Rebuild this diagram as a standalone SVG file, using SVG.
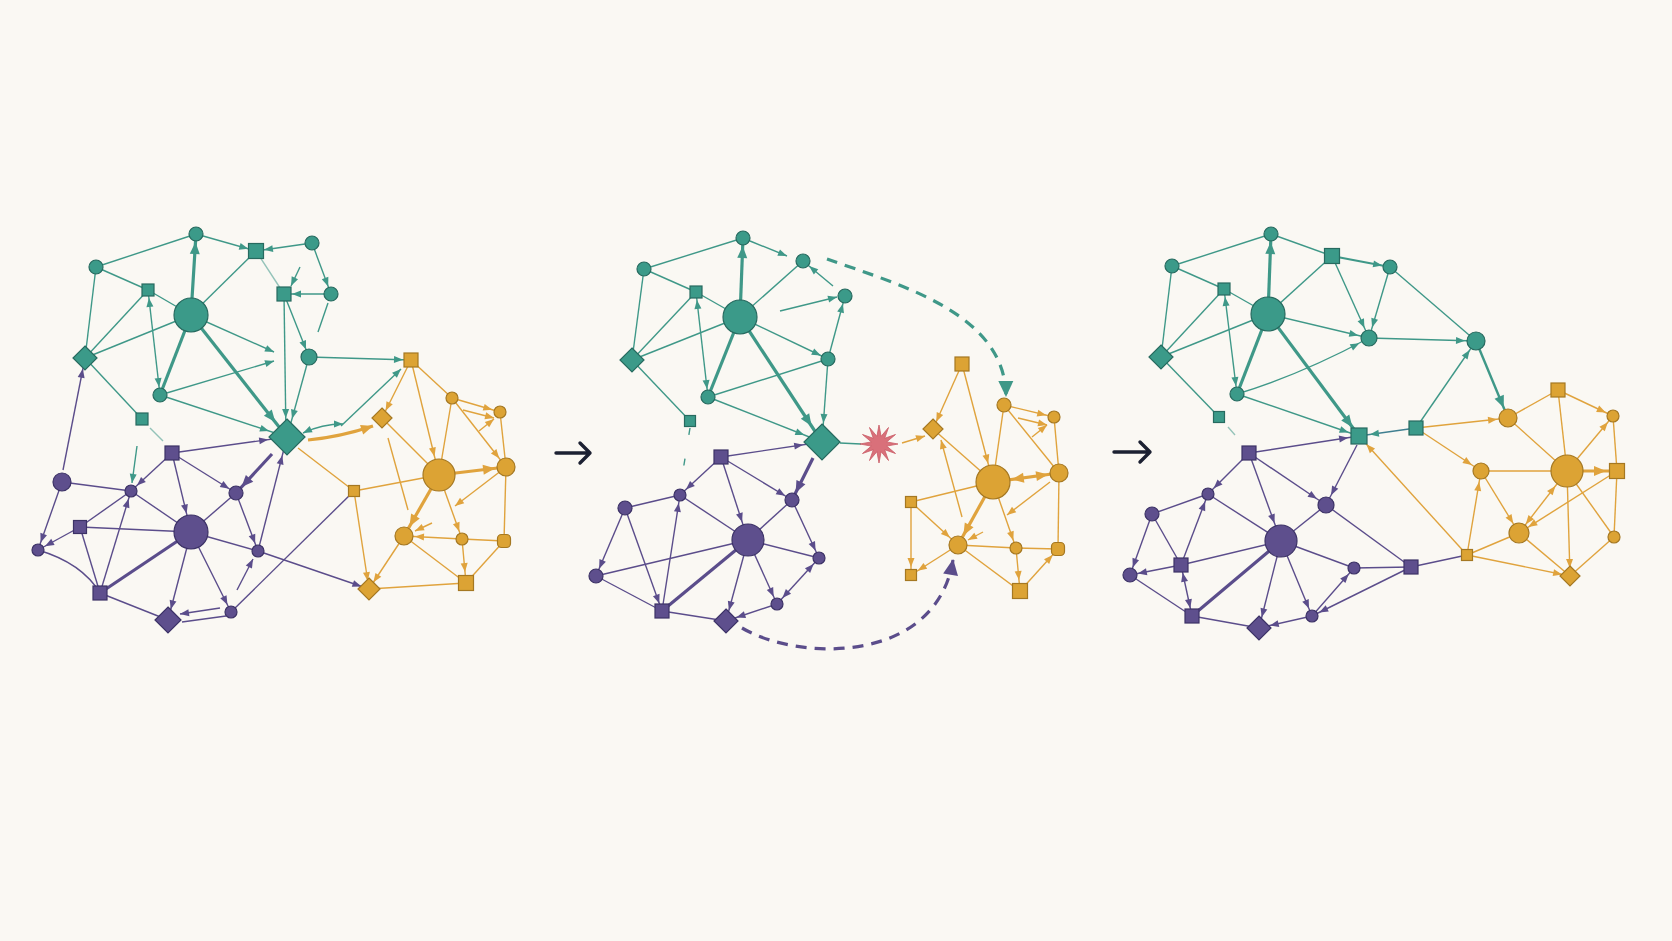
<svg xmlns="http://www.w3.org/2000/svg" width="1672" height="941" viewBox="0 0 1672 941">
<style>
.et{stroke:#3f9888;stroke-width:1.4;fill:none}
.ep{stroke:#5b4d8b;stroke-width:1.4;fill:none}
.eo{stroke:#e0a33d;stroke-width:1.4;fill:none}
.k{stroke-width:3.2}
.fa{opacity:.55}
.dash{stroke-width:3.2;stroke-dasharray:11 8}
.nt{fill:#3b9a89;stroke:#276a5f;stroke-width:1.2}
.np{fill:#5e4f8d;stroke:#3c3266;stroke-width:1.2}
.no{fill:#dca334;stroke:#a57822;stroke-width:1.2}
.pa{stroke:#1c2132;stroke-width:3.4;fill:none;stroke-linecap:round;stroke-linejoin:round}
</style>
<defs>
<marker id="t-s" markerUnits="userSpaceOnUse" orient="auto-start-reverse" refX="17" refY="0" markerWidth="10" markerHeight="10" overflow="visible"><path d="M0,-3.5L9,0L0,3.5z" fill="#3f9888"/></marker>
<marker id="t-m" markerUnits="userSpaceOnUse" orient="auto-start-reverse" refX="20" refY="0" markerWidth="10" markerHeight="10" overflow="visible"><path d="M0,-3.5L9,0L0,3.5z" fill="#3f9888"/></marker>
<marker id="t-l" markerUnits="userSpaceOnUse" orient="auto-start-reverse" refX="28" refY="0" markerWidth="10" markerHeight="10" overflow="visible"><path d="M0,-3.5L9,0L0,3.5z" fill="#3f9888"/></marker>
<marker id="t-0" markerUnits="userSpaceOnUse" orient="auto-start-reverse" refX="9" refY="0" markerWidth="10" markerHeight="10" overflow="visible"><path d="M0,-3.5L9,0L0,3.5z" fill="#3f9888"/></marker>
<marker id="p-s" markerUnits="userSpaceOnUse" orient="auto-start-reverse" refX="17" refY="0" markerWidth="10" markerHeight="10" overflow="visible"><path d="M0,-3.5L9,0L0,3.5z" fill="#5b4d8b"/></marker>
<marker id="p-m" markerUnits="userSpaceOnUse" orient="auto-start-reverse" refX="20" refY="0" markerWidth="10" markerHeight="10" overflow="visible"><path d="M0,-3.5L9,0L0,3.5z" fill="#5b4d8b"/></marker>
<marker id="p-l" markerUnits="userSpaceOnUse" orient="auto-start-reverse" refX="28" refY="0" markerWidth="10" markerHeight="10" overflow="visible"><path d="M0,-3.5L9,0L0,3.5z" fill="#5b4d8b"/></marker>
<marker id="p-0" markerUnits="userSpaceOnUse" orient="auto-start-reverse" refX="9" refY="0" markerWidth="10" markerHeight="10" overflow="visible"><path d="M0,-3.5L9,0L0,3.5z" fill="#5b4d8b"/></marker>
<marker id="o-s" markerUnits="userSpaceOnUse" orient="auto-start-reverse" refX="17" refY="0" markerWidth="10" markerHeight="10" overflow="visible"><path d="M0,-3.5L9,0L0,3.5z" fill="#e0a33d"/></marker>
<marker id="o-m" markerUnits="userSpaceOnUse" orient="auto-start-reverse" refX="20" refY="0" markerWidth="10" markerHeight="10" overflow="visible"><path d="M0,-3.5L9,0L0,3.5z" fill="#e0a33d"/></marker>
<marker id="o-l" markerUnits="userSpaceOnUse" orient="auto-start-reverse" refX="28" refY="0" markerWidth="10" markerHeight="10" overflow="visible"><path d="M0,-3.5L9,0L0,3.5z" fill="#e0a33d"/></marker>
<marker id="o-0" markerUnits="userSpaceOnUse" orient="auto-start-reverse" refX="9" refY="0" markerWidth="10" markerHeight="10" overflow="visible"><path d="M0,-3.5L9,0L0,3.5z" fill="#e0a33d"/></marker>
<marker id="tt-s" markerUnits="userSpaceOnUse" orient="auto-start-reverse" refX="20" refY="0" markerWidth="14" markerHeight="14" overflow="visible"><path d="M0,-5L12,0L0,5z" fill="#3f9888"/></marker>
<marker id="tt-m" markerUnits="userSpaceOnUse" orient="auto-start-reverse" refX="23" refY="0" markerWidth="14" markerHeight="14" overflow="visible"><path d="M0,-5L12,0L0,5z" fill="#3f9888"/></marker>
<marker id="tt-l" markerUnits="userSpaceOnUse" orient="auto-start-reverse" refX="31" refY="0" markerWidth="14" markerHeight="14" overflow="visible"><path d="M0,-5L12,0L0,5z" fill="#3f9888"/></marker>
<marker id="pt-s" markerUnits="userSpaceOnUse" orient="auto-start-reverse" refX="20" refY="0" markerWidth="14" markerHeight="14" overflow="visible"><path d="M0,-5L12,0L0,5z" fill="#5b4d8b"/></marker>
<marker id="ot-m" markerUnits="userSpaceOnUse" orient="auto-start-reverse" refX="23" refY="0" markerWidth="14" markerHeight="14" overflow="visible"><path d="M0,-5L12,0L0,5z" fill="#e0a33d"/></marker>
<marker id="ot-l" markerUnits="userSpaceOnUse" orient="auto-start-reverse" refX="31" refY="0" markerWidth="14" markerHeight="14" overflow="visible"><path d="M0,-5L12,0L0,5z" fill="#e0a33d"/></marker>
<marker id="ot-0" markerUnits="userSpaceOnUse" orient="auto-start-reverse" refX="12" refY="0" markerWidth="14" markerHeight="14" overflow="visible"><path d="M0,-5L12,0L0,5z" fill="#e0a33d"/></marker>
<marker id="td" markerUnits="userSpaceOnUse" orient="auto" refX="15" refY="0" markerWidth="16" markerHeight="16" overflow="visible"><path d="M0,-7.5L16,0L0,7.5z" fill="#3f9888"/></marker>
<marker id="pd" markerUnits="userSpaceOnUse" orient="auto" refX="15" refY="0" markerWidth="16" markerHeight="16" overflow="visible"><path d="M0,-7.5L16,0L0,7.5z" fill="#5b4d8b"/></marker>
</defs>
<rect width="1672" height="941" fill="#faf8f3"/>

<g id="connectors">
<!-- Panel 1 teal -->
<line class="et" x1="96" y1="267" x2="196" y2="234"/>
<line class="et" x1="196" y1="234" x2="256" y2="251" marker-end="url(#t-s)"/>
<line class="et" x1="96" y1="267" x2="148" y2="290"/>
<line class="et" x1="96" y1="267" x2="85" y2="358"/>
<line class="et" x1="148" y1="290" x2="191" y2="315"/>
<line class="et" x1="148" y1="290" x2="85" y2="358"/>
<line class="et k" x1="191" y1="315" x2="196" y2="234" marker-end="url(#tt-s)"/>
<line class="et" x1="191" y1="315" x2="256" y2="251"/>
<line class="et" x1="191" y1="315" x2="85" y2="358"/>
<line class="et" x1="148" y1="290" x2="160" y2="395" marker-start="url(#t-s)" marker-end="url(#t-s)"/>
<line class="et k" x1="191" y1="315" x2="160" y2="395"/>
<line class="et k" x1="191" y1="315" x2="287" y2="437" marker-end="url(#tt-l)"/>
<line class="et" x1="191" y1="315" x2="274" y2="352" marker-end="url(#t-0)"/>
<line class="et" x1="160" y1="395" x2="274" y2="361" marker-end="url(#t-0)"/>
<line class="et" x1="160" y1="395" x2="287" y2="437" marker-end="url(#t-l)"/>
<line class="et" x1="85" y1="358" x2="142" y2="419"/>
<line class="et" x1="284" y1="294" x2="286" y2="437" marker-end="url(#t-l)"/>
<line class="et fa" x1="256" y1="251" x2="284" y2="294"/>
<line class="et" x1="305" y1="244" x2="256" y2="251" marker-end="url(#t-s)"/>
<line class="et" x1="312" y1="243" x2="331" y2="294" marker-end="url(#t-s)"/>
<line class="et" x1="331" y1="294" x2="284" y2="294" marker-end="url(#t-s)"/>
<line class="et" x1="300" y1="267" x2="291" y2="286" marker-end="url(#t-0)"/>
<line class="et" x1="284" y1="294" x2="309" y2="357" marker-end="url(#t-s)"/>
<line class="et" x1="328" y1="303" x2="318" y2="332"/>
<line class="et" x1="309" y1="357" x2="411" y2="360" marker-end="url(#t-s)"/>
<line class="et" x1="309" y1="357" x2="287" y2="437" marker-end="url(#t-l)"/>
<path class="et" d="M303,433 Q322,424 343,424" marker-start="url(#t-0)" marker-end="url(#t-0)"/>
<line class="et" x1="341" y1="426" x2="401" y2="369" marker-end="url(#t-0)"/>
<line class="et fa" x1="150" y1="428" x2="163" y2="441"/>
<line class="et" x1="137" y1="446" x2="132" y2="483" marker-end="url(#t-0)"/>
<!-- Panel 1 orange -->
<path class="eo k" d="M308,440 Q340,437 373,426" marker-end="url(#ot-0)"/>
<line class="eo" x1="411" y1="360" x2="382" y2="418" marker-end="url(#o-s)"/>
<line class="eo" x1="411" y1="360" x2="439" y2="475" marker-end="url(#o-l)"/>
<line class="eo" x1="411" y1="360" x2="452" y2="398"/>
<line class="eo" x1="452" y1="398" x2="500" y2="412" marker-end="url(#o-s)"/>
<line class="eo" x1="463" y1="410" x2="494" y2="418" marker-end="url(#o-0)"/>
<line class="eo" x1="479" y1="431" x2="494" y2="419" marker-end="url(#o-0)"/>
<line class="eo" x1="452" y1="398" x2="439" y2="475"/>
<line class="eo" x1="452" y1="398" x2="506" y2="467" marker-end="url(#o-m)"/>
<line class="eo" x1="500" y1="412" x2="506" y2="467"/>
<line class="eo k" x1="439" y1="475" x2="506" y2="467" marker-end="url(#ot-m)"/>
<line class="eo" x1="506" y1="467" x2="455" y2="506" marker-end="url(#o-0)"/>
<line class="eo" x1="388" y1="438" x2="408" y2="510"/>
<line class="eo" x1="382" y1="418" x2="439" y2="475"/>
<line class="eo k" x1="439" y1="475" x2="404" y2="536" marker-end="url(#ot-m)"/>
<line class="eo" x1="432" y1="523" x2="415" y2="531" marker-end="url(#o-0)"/>
<line class="eo" x1="439" y1="475" x2="462" y2="539" marker-end="url(#o-s)"/>
<line class="eo" x1="439" y1="475" x2="354" y2="491"/>
<line class="eo" x1="354" y1="491" x2="369" y2="589" marker-end="url(#o-s)"/>
<line class="eo" x1="298" y1="448" x2="354" y2="491"/>
<line class="eo" x1="462" y1="539" x2="404" y2="536" marker-end="url(#o-m)"/>
<line class="eo" x1="462" y1="539" x2="504" y2="541"/>
<line class="eo" x1="462" y1="539" x2="466" y2="583" marker-end="url(#o-m)"/>
<line class="eo" x1="506" y1="467" x2="504" y2="541"/>
<line class="eo" x1="504" y1="541" x2="466" y2="583"/>
<line class="eo" x1="404" y1="536" x2="369" y2="589" marker-end="url(#o-s)"/>
<line class="eo" x1="404" y1="536" x2="466" y2="583"/>
<line class="eo" x1="369" y1="589" x2="466" y2="583"/>
<!-- Panel 1 purple -->
<line class="ep" x1="231" y1="612" x2="354" y2="491"/>
<line class="ep" x1="258" y1="551" x2="369" y2="589" marker-end="url(#p-s)"/>
<line class="ep" x1="172" y1="453" x2="287" y2="437" marker-end="url(#p-l)"/>
<line class="ep" x1="172" y1="453" x2="131" y2="491" marker-end="url(#p-s)"/>
<line class="ep" x1="172" y1="453" x2="191" y2="532" marker-end="url(#p-l)"/>
<line class="ep" x1="172" y1="453" x2="236" y2="493" marker-end="url(#p-s)"/>
<line class="ep k" x1="272" y1="454" x2="236" y2="493" marker-end="url(#pt-s)"/>
<line class="ep" x1="62" y1="482" x2="131" y2="491"/>
<line class="ep" x1="62" y1="482" x2="38" y2="550" marker-end="url(#p-s)"/>
<line class="ep" x1="63" y1="470" x2="85" y2="358" marker-end="url(#p-m)"/>
<line class="ep" x1="80" y1="527" x2="131" y2="491"/>
<line class="ep" x1="80" y1="527" x2="38" y2="550" marker-end="url(#p-s)"/>
<line class="ep" x1="80" y1="527" x2="191" y2="532"/>
<line class="ep" x1="80" y1="527" x2="100" y2="593"/>
<line class="ep" x1="131" y1="491" x2="191" y2="532"/>
<line class="ep" x1="100" y1="593" x2="131" y2="491" marker-end="url(#p-s)"/>
<path class="ep" d="M38,550 Q82,563 100,593"/>
<line class="ep k" x1="100" y1="593" x2="191" y2="532"/>
<line class="ep" x1="100" y1="593" x2="168" y2="620"/>
<line class="ep" x1="191" y1="532" x2="168" y2="620" marker-end="url(#p-m)"/>
<line class="ep" x1="191" y1="532" x2="231" y2="612" marker-end="url(#p-s)"/>
<line class="ep" x1="191" y1="532" x2="258" y2="551"/>
<line class="ep" x1="191" y1="532" x2="236" y2="493"/>
<line class="ep" x1="236" y1="493" x2="258" y2="551" marker-end="url(#p-s)"/>
<line class="ep" x1="258" y1="551" x2="287" y2="437" marker-end="url(#p-l)"/>
<line class="ep" x1="237" y1="590" x2="253" y2="559" marker-end="url(#p-0)"/>
<line class="ep" x1="220" y1="608" x2="180" y2="614" marker-end="url(#p-0)"/>
<line class="ep" x1="182" y1="622" x2="226" y2="616"/>

<!-- Panel 2 teal -->
<line class="et" x1="644" y1="269" x2="743" y2="238"/>
<line class="et" x1="750" y1="241" x2="787" y2="256" marker-end="url(#t-0)"/>
<line class="et" x1="644" y1="269" x2="696" y2="292"/>
<line class="et" x1="644" y1="269" x2="632" y2="360"/>
<line class="et" x1="696" y1="292" x2="740" y2="317"/>
<line class="et" x1="696" y1="292" x2="632" y2="360"/>
<line class="et" x1="696" y1="292" x2="708" y2="397" marker-start="url(#t-s)" marker-end="url(#t-s)"/>
<line class="et k" x1="740" y1="317" x2="743" y2="238" marker-end="url(#tt-s)"/>
<line class="et" x1="740" y1="317" x2="803" y2="261"/>
<line class="et" x1="740" y1="317" x2="632" y2="360"/>
<line class="et" x1="740" y1="317" x2="828" y2="359" marker-end="url(#t-s)"/>
<line class="et k" x1="740" y1="317" x2="708" y2="397"/>
<line class="et k" x1="740" y1="317" x2="822" y2="442" marker-end="url(#tt-l)"/>
<line class="et" x1="833" y1="286" x2="803" y2="261" marker-end="url(#t-s)"/>
<line class="et" x1="780" y1="311" x2="837" y2="297" marker-end="url(#t-0)"/>
<line class="et" x1="828" y1="359" x2="845" y2="296" marker-end="url(#t-s)"/>
<line class="et" x1="828" y1="359" x2="822" y2="442" marker-end="url(#t-l)"/>
<line class="et" x1="708" y1="397" x2="828" y2="359"/>
<line class="et" x1="708" y1="397" x2="822" y2="442" marker-end="url(#t-l)"/>
<line class="et" x1="632" y1="360" x2="690" y2="421"/>
<line class="et" x1="840" y1="443" x2="861" y2="444"/>
<line class="et" x1="690" y1="428" x2="680" y2="489" style="stroke-dasharray:7 24"/>
<path class="et dash" d="M827,259 C900,285 1005,313 1006,396" marker-end="url(#td)"/>
<!-- Panel 2 orange -->
<line class="eo" x1="902" y1="443" x2="925" y2="436" marker-end="url(#o-0)"/>
<line class="eo" x1="962" y1="364" x2="933" y2="429" marker-end="url(#o-s)"/>
<line class="eo" x1="962" y1="364" x2="993" y2="482" marker-end="url(#o-l)"/>
<line class="eo" x1="1004" y1="405" x2="993" y2="482"/>
<line class="eo" x1="1004" y1="405" x2="1054" y2="417" marker-end="url(#o-s)"/>
<line class="eo" x1="1018" y1="418" x2="1047" y2="425" marker-end="url(#o-0)"/>
<line class="eo" x1="1004" y1="405" x2="1059" y2="473"/>
<line class="eo" x1="1032" y1="437" x2="1047" y2="425" marker-end="url(#o-0)"/>
<line class="eo" x1="1054" y1="417" x2="1059" y2="473"/>
<line class="eo k" x1="993" y1="482" x2="1059" y2="473" marker-start="url(#ot-l)" marker-end="url(#ot-m)"/>
<line class="eo" x1="1050" y1="482" x2="1007" y2="515" marker-end="url(#o-0)"/>
<line class="eo" x1="962" y1="517" x2="941" y2="440" marker-end="url(#o-0)"/>
<line class="eo" x1="933" y1="429" x2="993" y2="482"/>
<line class="eo k" x1="993" y1="482" x2="958" y2="545" marker-end="url(#ot-m)"/>
<line class="eo" x1="983" y1="532" x2="968" y2="540" marker-end="url(#o-0)"/>
<line class="eo" x1="993" y1="482" x2="1016" y2="548" marker-end="url(#o-s)"/>
<line class="eo" x1="993" y1="482" x2="911" y2="502"/>
<line class="eo" x1="911" y1="502" x2="958" y2="545" marker-end="url(#o-m)"/>
<line class="eo" x1="911" y1="502" x2="911" y2="575" marker-end="url(#o-s)"/>
<line class="eo" x1="958" y1="545" x2="911" y2="575" marker-end="url(#o-s)"/>
<line class="eo" x1="958" y1="545" x2="1016" y2="548"/>
<line class="eo" x1="1016" y1="548" x2="1058" y2="549"/>
<line class="eo" x1="1016" y1="548" x2="1020" y2="591" marker-end="url(#o-m)"/>
<line class="eo" x1="1020" y1="591" x2="1058" y2="549" marker-end="url(#o-s)"/>
<line class="eo" x1="1059" y1="473" x2="1058" y2="549"/>
<line class="eo" x1="958" y1="545" x2="1020" y2="591"/>
<!-- Panel 2 purple -->
<path class="ep dash" d="M742,628 C800,662 936,664 953,560" marker-end="url(#pd)"/>
<line class="ep" x1="721" y1="457" x2="822" y2="442" marker-end="url(#p-l)"/>
<line class="ep" x1="721" y1="457" x2="680" y2="495" marker-end="url(#p-s)"/>
<line class="ep" x1="721" y1="457" x2="748" y2="540" marker-end="url(#p-l)"/>
<line class="ep" x1="721" y1="457" x2="792" y2="500" marker-end="url(#p-s)"/>
<line class="ep k" x1="813" y1="458" x2="792" y2="500" marker-end="url(#pt-s)"/>
<line class="ep" x1="625" y1="508" x2="680" y2="495"/>
<line class="ep" x1="625" y1="508" x2="596" y2="576" marker-end="url(#p-s)"/>
<line class="ep" x1="625" y1="508" x2="662" y2="611" marker-end="url(#p-s)"/>
<line class="ep" x1="680" y1="495" x2="748" y2="540"/>
<line class="ep" x1="662" y1="611" x2="680" y2="495" marker-end="url(#p-s)"/>
<line class="ep" x1="596" y1="576" x2="748" y2="540"/>
<line class="ep" x1="596" y1="576" x2="662" y2="611"/>
<line class="ep k" x1="662" y1="611" x2="748" y2="540"/>
<line class="ep" x1="662" y1="611" x2="726" y2="621"/>
<line class="ep" x1="748" y1="540" x2="726" y2="621" marker-end="url(#p-m)"/>
<line class="ep" x1="748" y1="540" x2="777" y2="604" marker-end="url(#p-s)"/>
<line class="ep" x1="748" y1="540" x2="819" y2="558"/>
<line class="ep" x1="792" y1="500" x2="748" y2="540"/>
<line class="ep" x1="792" y1="500" x2="819" y2="558" marker-end="url(#p-s)"/>
<line class="ep" x1="777" y1="604" x2="819" y2="558" marker-start="url(#p-s)" marker-end="url(#p-s)"/>
<line class="ep" x1="777" y1="604" x2="726" y2="621" marker-end="url(#p-m)"/>

<!-- Panel 3 teal -->
<line class="et" x1="1172" y1="266" x2="1271" y2="234"/>
<line class="et" x1="1271" y1="234" x2="1332" y2="256"/>
<line class="et" x1="1172" y1="266" x2="1224" y2="289"/>
<line class="et" x1="1172" y1="266" x2="1161" y2="357"/>
<line class="et" x1="1224" y1="289" x2="1268" y2="314"/>
<line class="et" x1="1224" y1="289" x2="1161" y2="357"/>
<line class="et" x1="1224" y1="289" x2="1237" y2="394" marker-start="url(#t-s)" marker-end="url(#t-s)"/>
<line class="et k" x1="1268" y1="314" x2="1271" y2="234" marker-end="url(#tt-s)"/>
<line class="et" x1="1268" y1="314" x2="1332" y2="256"/>
<line class="et" x1="1268" y1="314" x2="1161" y2="357"/>
<line class="et" x1="1268" y1="314" x2="1369" y2="338" marker-end="url(#t-m)"/>
<line class="et k" x1="1268" y1="314" x2="1237" y2="394"/>
<line class="et k" x1="1268" y1="314" x2="1359" y2="436" marker-end="url(#tt-m)"/>
<line class="et" x1="1332" y1="256" x2="1369" y2="338" marker-end="url(#t-m)"/>
<line class="et" x1="1332" y1="256" x2="1390" y2="267" style="stroke-width:2.2" marker-end="url(#t-s)"/>
<path class="et" d="M1237,394 Q1300,375 1369,338" marker-end="url(#t-m)"/>
<line class="et" x1="1237" y1="394" x2="1359" y2="436" marker-end="url(#t-m)"/>
<line class="et" x1="1161" y1="357" x2="1219" y2="417"/>
<line class="et fa" x1="1228" y1="427" x2="1235" y2="435"/>
<line class="et" x1="1390" y1="267" x2="1369" y2="338" marker-end="url(#t-m)"/>
<line class="et" x1="1390" y1="267" x2="1476" y2="341"/>
<line class="et" x1="1369" y1="338" x2="1476" y2="341" marker-end="url(#t-m)"/>
<line class="et" x1="1416" y1="428" x2="1476" y2="341" marker-end="url(#t-m)"/>
<line class="et" x1="1476" y1="341" x2="1508" y2="418" style="stroke-width:2.4" marker-end="url(#tt-m)"/>
<line class="et" x1="1416" y1="428" x2="1359" y2="436" style="stroke:#3f7f90" marker-end="url(#t-m)"/>
<!-- Panel 3 orange -->
<line class="eo" x1="1416" y1="428" x2="1508" y2="418" marker-end="url(#o-m)"/>
<line class="eo" x1="1508" y1="418" x2="1558" y2="390"/>
<line class="eo" x1="1558" y1="390" x2="1613" y2="416" marker-end="url(#o-s)"/>
<line class="eo" x1="1558" y1="390" x2="1567" y2="471"/>
<line class="eo" x1="1508" y1="418" x2="1567" y2="471"/>
<line class="eo" x1="1416" y1="428" x2="1481" y2="471" marker-end="url(#o-m)"/>
<line class="eo" x1="1467" y1="555" x2="1359" y2="436" marker-end="url(#o-m)"/>
<line class="eo" x1="1467" y1="555" x2="1481" y2="471" marker-end="url(#o-m)"/>
<line class="eo" x1="1467" y1="555" x2="1519" y2="533"/>
<line class="eo" x1="1467" y1="555" x2="1570" y2="576" marker-end="url(#o-s)"/>
<line class="eo" x1="1481" y1="471" x2="1567" y2="471"/>
<line class="eo" x1="1481" y1="471" x2="1519" y2="533" marker-end="url(#o-m)"/>
<line class="eo" x1="1567" y1="471" x2="1613" y2="416" marker-end="url(#o-s)"/>
<line class="eo k" x1="1567" y1="471" x2="1617" y2="471" marker-end="url(#ot-m)"/>
<line class="eo" x1="1567" y1="471" x2="1519" y2="533" marker-start="url(#o-l)" marker-end="url(#o-m)"/>
<line class="eo" x1="1617" y1="471" x2="1519" y2="533" marker-end="url(#o-m)"/>
<line class="eo" x1="1567" y1="471" x2="1570" y2="576" marker-end="url(#o-s)"/>
<line class="eo" x1="1567" y1="471" x2="1614" y2="537"/>
<line class="eo" x1="1613" y1="416" x2="1617" y2="471"/>
<line class="eo" x1="1617" y1="471" x2="1614" y2="537"/>
<line class="eo" x1="1519" y1="533" x2="1570" y2="576"/>
<line class="eo" x1="1614" y1="537" x2="1570" y2="576"/>
<!-- Panel 3 purple -->
<line class="ep" x1="1249" y1="453" x2="1359" y2="436" marker-end="url(#p-m)"/>
<line class="ep" x1="1249" y1="453" x2="1208" y2="494" marker-end="url(#p-s)"/>
<line class="ep" x1="1249" y1="453" x2="1281" y2="541" marker-end="url(#p-l)"/>
<line class="ep" x1="1249" y1="453" x2="1326" y2="505" marker-end="url(#p-m)"/>
<line class="ep" x1="1357" y1="445" x2="1326" y2="505" marker-end="url(#p-m)"/>
<line class="ep" x1="1152" y1="514" x2="1208" y2="494"/>
<line class="ep" x1="1152" y1="514" x2="1130" y2="575" marker-end="url(#p-s)"/>
<line class="ep" x1="1152" y1="514" x2="1181" y2="565"/>
<line class="ep" x1="1208" y1="494" x2="1281" y2="541"/>
<line class="ep" x1="1181" y1="565" x2="1208" y2="494" marker-end="url(#p-s)"/>
<line class="ep" x1="1181" y1="565" x2="1130" y2="575" marker-end="url(#p-s)"/>
<line class="ep" x1="1181" y1="565" x2="1281" y2="541"/>
<line class="ep" x1="1181" y1="565" x2="1192" y2="616" marker-start="url(#p-s)" marker-end="url(#p-s)"/>
<line class="ep" x1="1130" y1="575" x2="1192" y2="616"/>
<line class="ep k" x1="1192" y1="616" x2="1281" y2="541"/>
<line class="ep" x1="1192" y1="616" x2="1259" y2="628"/>
<line class="ep" x1="1281" y1="541" x2="1259" y2="628" marker-end="url(#p-m)"/>
<line class="ep" x1="1281" y1="541" x2="1312" y2="616" marker-end="url(#p-s)"/>
<line class="ep" x1="1281" y1="541" x2="1354" y2="568"/>
<line class="ep" x1="1326" y1="505" x2="1281" y2="541"/>
<line class="ep" x1="1312" y1="616" x2="1354" y2="568" marker-end="url(#p-s)"/>
<line class="ep" x1="1312" y1="616" x2="1259" y2="628" marker-end="url(#p-m)"/>
<line class="ep" x1="1326" y1="505" x2="1411" y2="567"/>
<line class="ep" x1="1354" y1="568" x2="1411" y2="567"/>
<line class="ep" x1="1411" y1="567" x2="1312" y2="616" marker-end="url(#p-s)"/>
<line class="ep" x1="1411" y1="567" x2="1467" y2="555"/>
</g>

<g id="panel-arrows">
<path class="pa" d="M556,453H590M580,443L590,453L580,463"/>
<path class="pa" d="M1114,452H1150M1140,442L1150,452L1140,462"/>
</g>

<!-- Panel 1 nodes -->
<g id="a1"><circle class="nt" cx="196" cy="234" r="7"/></g>
<g id="a2"><rect class="nt" x="248.5" y="243.5" width="15" height="15"/></g>
<g id="a3"><circle class="nt" cx="96" cy="267" r="7"/></g>
<g id="a4"><rect class="nt" x="142" y="284" width="12" height="12"/></g>
<g id="a5"><rect class="nt" x="277" y="287" width="14" height="14"/></g>
<g id="a6"><circle class="nt" cx="312" cy="243" r="7"/></g>
<g id="a7"><circle class="nt" cx="331" cy="294" r="7"/></g>
<g id="aH"><circle class="nt" cx="191" cy="315" r="17"/></g>
<g id="a8"><polygon class="nt" points="85,346 97,358 85,370 73,358"/></g>
<g id="a9"><circle class="nt" cx="309" cy="357" r="8"/></g>
<g id="a10"><circle class="nt" cx="160" cy="395" r="7"/></g>
<g id="a11"><rect class="nt" x="136" y="413" width="12" height="12"/></g>
<g id="aD"><polygon class="nt" points="287,419 305,437 287,455 269,437"/></g>
<g id="b1"><rect class="no" x="404" y="353" width="14" height="14"/></g>
<g id="b2"><polygon class="no" points="382,408 392,418 382,428 372,418"/></g>
<g id="b3"><circle class="no" cx="452" cy="398" r="6"/></g>
<g id="b4"><circle class="no" cx="500" cy="412" r="6"/></g>
<g id="bH"><circle class="no" cx="439" cy="475" r="16"/></g>
<g id="b5"><circle class="no" cx="506" cy="467" r="9"/></g>
<g id="b6"><rect class="no" x="348.5" y="485.5" width="11" height="11"/></g>
<g id="b7"><circle class="no" cx="404" cy="536" r="9"/></g>
<g id="b8"><circle class="no" cx="462" cy="539" r="6"/></g>
<g id="b9"><rect class="no" x="497.5" y="534.5" width="13" height="13" rx="4"/></g>
<g id="b10"><polygon class="no" points="369,578 380,589 369,600 358,589"/></g>
<g id="b11"><rect class="no" x="458.5" y="575.5" width="15" height="15"/></g>
<g id="c1"><rect class="np" x="165" y="446" width="14" height="14"/></g>
<g id="c2"><circle class="np" cx="62" cy="482" r="9"/></g>
<g id="c3"><circle class="np" cx="131" cy="491" r="6"/></g>
<g id="c4"><circle class="np" cx="236" cy="493" r="7"/></g>
<g id="c5"><rect class="np" x="73.5" y="520.5" width="13" height="13"/></g>
<g id="cH"><circle class="np" cx="191" cy="532" r="17"/></g>
<g id="c6"><circle class="np" cx="38" cy="550" r="6"/></g>
<g id="c7"><circle class="np" cx="258" cy="551" r="6"/></g>
<g id="c8"><rect class="np" x="93" y="586" width="14" height="14"/></g>
<g id="c9"><polygon class="np" points="168,607 181,620 168,633 155,620"/></g>
<g id="c10"><circle class="np" cx="231" cy="612" r="6"/></g>

<!-- Panel 2 nodes -->
<g id="d1"><circle class="nt" cx="743" cy="238" r="7"/></g>
<g id="d2"><circle class="nt" cx="803" cy="261" r="7"/></g>
<g id="d3"><circle class="nt" cx="644" cy="269" r="7"/></g>
<g id="d4"><rect class="nt" x="690" y="286" width="12" height="12"/></g>
<g id="d5"><circle class="nt" cx="845" cy="296" r="7"/></g>
<g id="dH"><circle class="nt" cx="740" cy="317" r="17"/></g>
<g id="d6"><polygon class="nt" points="632,348 644,360 632,372 620,360"/></g>
<g id="d7"><circle class="nt" cx="828" cy="359" r="7"/></g>
<g id="d8"><circle class="nt" cx="708" cy="397" r="7"/></g>
<g id="d9"><rect class="nt" x="684.5" y="415.5" width="11" height="11"/></g>
<g id="dD"><polygon class="nt" points="822,424 840,442 822,460 804,442"/></g>
<g id="burst"><polygon fill="#d9707a" stroke="#c95c66" stroke-width="0.8" points="879,425 881.1,436.3 888.5,427.5 884.7,438.3 895.5,434.5 886.7,441.9 898,444 886.7,446.1 895.5,453.5 884.7,449.7 888.5,460.5 881.1,451.7 879,463 876.9,451.7 869.5,460.5 873.3,449.7 862.5,453.5 871.3,446.1 860,444 871.3,441.9 862.5,434.5 873.3,438.3 869.5,427.5 876.9,436.3"/></g>
<g id="e1"><rect class="no" x="955" y="357" width="14" height="14"/></g>
<g id="e2"><polygon class="no" points="933,419 943,429 933,439 923,429"/></g>
<g id="e3"><circle class="no" cx="1004" cy="405" r="7"/></g>
<g id="e4"><circle class="no" cx="1054" cy="417" r="6"/></g>
<g id="eH"><circle class="no" cx="993" cy="482" r="17"/></g>
<g id="e5"><circle class="no" cx="1059" cy="473" r="9"/></g>
<g id="e6"><rect class="no" x="905.5" y="496.5" width="11" height="11"/></g>
<g id="e7"><circle class="no" cx="958" cy="545" r="9"/></g>
<g id="e8"><circle class="no" cx="1016" cy="548" r="6"/></g>
<g id="e9"><rect class="no" x="1051.5" y="542.5" width="13" height="13" rx="4"/></g>
<g id="e10"><rect class="no" x="905.5" y="569.5" width="11" height="11"/></g>
<g id="e11"><rect class="no" x="1012.5" y="583.5" width="15" height="15"/></g>
<g id="f1"><rect class="np" x="714" y="450" width="14" height="14"/></g>
<g id="f2"><circle class="np" cx="680" cy="495" r="6"/></g>
<g id="f3"><circle class="np" cx="792" cy="500" r="7"/></g>
<g id="f4"><circle class="np" cx="625" cy="508" r="7"/></g>
<g id="fH"><circle class="np" cx="748" cy="540" r="16"/></g>
<g id="f5"><circle class="np" cx="819" cy="558" r="6"/></g>
<g id="f6"><circle class="np" cx="596" cy="576" r="7"/></g>
<g id="f7"><rect class="np" x="655" y="604" width="14" height="14"/></g>
<g id="f8"><circle class="np" cx="777" cy="604" r="6"/></g>
<g id="f9"><polygon class="np" points="726,609 738,621 726,633 714,621"/></g>

<!-- Panel 3 nodes -->
<g id="g1"><circle class="nt" cx="1271" cy="234" r="7"/></g>
<g id="g2"><rect class="nt" x="1324.5" y="248.5" width="15" height="15"/></g>
<g id="g3"><circle class="nt" cx="1172" cy="266" r="7"/></g>
<g id="g4"><rect class="nt" x="1218" y="283" width="12" height="12"/></g>
<g id="g5"><circle class="nt" cx="1390" cy="267" r="7"/></g>
<g id="gH"><circle class="nt" cx="1268" cy="314" r="17"/></g>
<g id="g6"><polygon class="nt" points="1161,345 1173,357 1161,369 1149,357"/></g>
<g id="g7"><circle class="nt" cx="1369" cy="338" r="8"/></g>
<g id="g8"><circle class="nt" cx="1476" cy="341" r="9"/></g>
<g id="g9"><circle class="nt" cx="1237" cy="394" r="7"/></g>
<g id="g10"><rect class="nt" x="1213.5" y="411.5" width="11" height="11"/></g>
<g id="g11"><rect class="nt" x="1351" y="428" width="16" height="16"/></g>
<g id="g12"><rect class="nt" x="1409" y="421" width="14" height="14"/></g>
<g id="h1"><circle class="no" cx="1508" cy="418" r="9"/></g>
<g id="h2"><rect class="no" x="1551" y="383" width="14" height="14"/></g>
<g id="h3"><circle class="no" cx="1613" cy="416" r="6"/></g>
<g id="h4"><circle class="no" cx="1481" cy="471" r="8"/></g>
<g id="hH"><circle class="no" cx="1567" cy="471" r="16"/></g>
<g id="h5"><rect class="no" x="1609.5" y="463.5" width="15" height="15"/></g>
<g id="h6"><circle class="no" cx="1519" cy="533" r="10"/></g>
<g id="h7"><circle class="no" cx="1614" cy="537" r="6"/></g>
<g id="h8"><rect class="no" x="1461.5" y="549.5" width="11" height="11"/></g>
<g id="h9"><polygon class="no" points="1570,566 1580,576 1570,586 1560,576"/></g>
<g id="i1"><rect class="np" x="1242" y="446" width="14" height="14"/></g>
<g id="i2"><circle class="np" cx="1208" cy="494" r="6"/></g>
<g id="i3"><circle class="np" cx="1326" cy="505" r="8"/></g>
<g id="i4"><circle class="np" cx="1152" cy="514" r="7"/></g>
<g id="iH"><circle class="np" cx="1281" cy="541" r="16"/></g>
<g id="i5"><rect class="np" x="1174" y="558" width="14" height="14"/></g>
<g id="i6"><circle class="np" cx="1354" cy="568" r="6"/></g>
<g id="i7"><circle class="np" cx="1130" cy="575" r="7"/></g>
<g id="i8"><rect class="np" x="1185" y="609" width="14" height="14"/></g>
<g id="i9"><circle class="np" cx="1312" cy="616" r="6"/></g>
<g id="i10"><polygon class="np" points="1259,616 1271,628 1259,640 1247,628"/></g>
<g id="i11"><rect class="np" x="1404" y="560" width="14" height="14"/></g>
</svg>
